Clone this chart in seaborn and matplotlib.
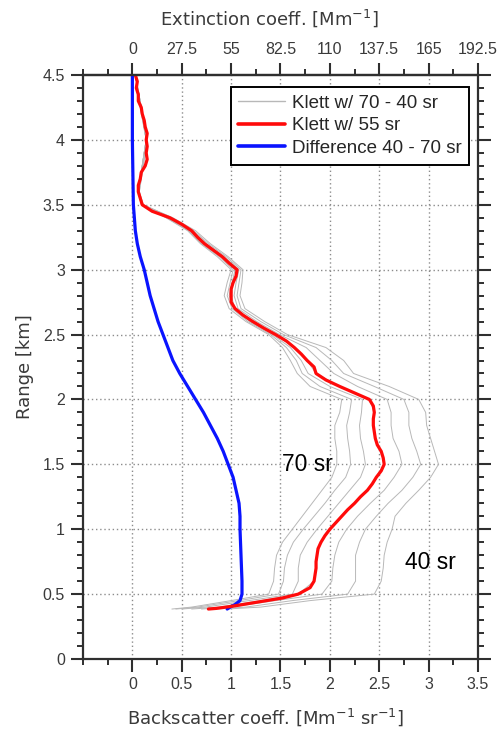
import numpy as np
import pandas as pd
import matplotlib
matplotlib.use("Agg")
import matplotlib.pyplot as plt
from matplotlib.lines import Line2D
from matplotlib.ticker import MultipleLocator, FixedLocator, FuncFormatter
import seaborn as sns

# ---------------------------------------------------------------- data
# Klett retrieval with a lidar ratio of 55 sr (backscatter, Mm^-1 sr^-1)
red_range = [4.50, 4.45, 4.40, 4.35, 4.30, 4.25, 4.20, 4.15, 4.10, 4.05, 4.00,
             3.95, 3.90, 3.85, 3.80, 3.75, 3.70, 3.65, 3.60, 3.55, 3.50, 3.45,
             3.40, 3.35, 3.30, 3.25, 3.20, 3.15, 3.10, 3.05, 3.00, 2.95, 2.90,
             2.85, 2.80, 2.75, 2.70, 2.65, 2.60, 2.55, 2.50, 2.45, 2.40, 2.35,
             2.30, 2.25, 2.20, 2.15, 2.10, 2.05, 2.00, 1.95, 1.90, 1.85, 1.80,
             1.75, 1.70, 1.65, 1.60, 1.55, 1.50, 1.45, 1.40, 1.35, 1.30, 1.25,
             1.20, 1.15, 1.10, 1.05, 1.00, 0.95, 0.90, 0.85, 0.80, 0.75, 0.70,
             0.65, 0.60, 0.55, 0.50, 0.47, 0.45, 0.43, 0.41, 0.40, 0.39, 0.385]
red_beta = [0.03, 0.05, 0.04, 0.06, 0.06, 0.09, 0.10, 0.12, 0.13, 0.15, 0.14,
            0.15, 0.14, 0.15, 0.13, 0.09, 0.08, 0.06, 0.06, 0.08, 0.10, 0.20,
            0.38, 0.50, 0.60, 0.66, 0.73, 0.82, 0.91, 0.98, 1.06, 1.05, 1.02,
            1.00, 1.00, 1.00, 1.04, 1.12, 1.22, 1.33, 1.45, 1.56, 1.64, 1.71,
            1.77, 1.84, 1.86, 1.96, 2.10, 2.25, 2.40, 2.44, 2.45, 2.44, 2.44,
            2.45, 2.46, 2.48, 2.52, 2.54, 2.55, 2.52, 2.47, 2.43, 2.38, 2.31,
            2.25, 2.18, 2.12, 2.06, 2.00, 1.95, 1.91, 1.88, 1.87, 1.86, 1.86,
            1.85, 1.84, 1.80, 1.68, 1.52, 1.36, 1.20, 1.04, 0.95, 0.85, 0.77]

# Difference between the 40 sr and 70 sr retrievals
blue_range = [4.50, 4.00, 3.75, 3.50, 3.40, 3.30, 3.20, 3.10, 3.00, 2.90, 2.80,
              2.70, 2.60, 2.50, 2.40, 2.30, 2.20, 2.10, 2.00, 1.90, 1.80, 1.70,
              1.60, 1.50, 1.40, 1.30, 1.20, 1.10, 1.00, 0.80, 0.60, 0.50, 0.45,
              0.42, 0.40, 0.385]
blue_beta = [0.00, 0.00, 0.005, 0.01, 0.02, 0.03, 0.05, 0.08, 0.12, 0.15, 0.18,
             0.22, 0.26, 0.31, 0.36, 0.41, 0.48, 0.56, 0.64, 0.72, 0.79, 0.86,
             0.92, 0.97, 1.02, 1.05, 1.08, 1.09, 1.09, 1.10, 1.11, 1.11, 1.09,
             1.04, 0.99, 0.96]

# Klett retrievals for lidar ratios from 70 sr down to 40 sr
gray_range = [4.50, 4.25, 4.00, 3.75, 3.60, 3.50, 3.40, 3.30, 3.20, 3.10, 3.00,
              2.90, 2.80, 2.70, 2.60, 2.50, 2.40, 2.30, 2.20, 2.10, 2.00, 1.90,
              1.80, 1.70, 1.60, 1.50, 1.40, 1.30, 1.20, 1.10, 1.00, 0.90, 0.80,
              0.70, 0.60, 0.50, 0.45, 0.40, 0.385]
lidar_ratios = [70, 65, 60, 55, 50, 45, 40]
gray_beta = {
    70: [0.03, 0.08, 0.14, 0.09, 0.06, 0.09, 0.34, 0.56, 0.69, 0.86, 1.00,
         0.96, 0.93, 0.98, 1.15, 1.38, 1.52, 1.60, 1.67, 1.80, 2.12, 2.10,
         2.05, 2.05, 2.07, 2.07, 2.02, 1.92, 1.82, 1.72, 1.62, 1.52, 1.46,
         1.44, 1.43, 1.38, 1.00, 0.60, 0.40],
    65: [0.03, 0.08, 0.14, 0.09, 0.06, 0.10, 0.35, 0.57, 0.70, 0.88, 1.02,
         0.99, 0.96, 1.01, 1.17, 1.40, 1.56, 1.66, 1.72, 1.90, 2.22, 2.20,
         2.17, 2.18, 2.20, 2.21, 2.16, 2.05, 1.95, 1.84, 1.73, 1.63, 1.57,
         1.54, 1.53, 1.48, 1.08, 0.66, 0.44],
    60: [0.03, 0.09, 0.14, 0.09, 0.06, 0.10, 0.36, 0.58, 0.72, 0.90, 1.04,
         1.01, 0.98, 1.03, 1.19, 1.42, 1.60, 1.71, 1.78, 2.00, 2.33, 2.32,
         2.30, 2.31, 2.34, 2.36, 2.31, 2.20, 2.09, 1.98, 1.87, 1.77, 1.70,
         1.68, 1.68, 1.62, 1.18, 0.74, 0.50],
    55: [0.03, 0.09, 0.14, 0.09, 0.06, 0.10, 0.38, 0.60, 0.73, 0.91, 1.06,
         1.02, 1.00, 1.04, 1.22, 1.45, 1.64, 1.77, 1.86, 2.10, 2.40, 2.45,
         2.44, 2.46, 2.52, 2.55, 2.47, 2.38, 2.25, 2.12, 2.00, 1.91, 1.87,
         1.86, 1.84, 1.68, 1.30, 0.88, 0.60],
    50: [0.03, 0.09, 0.14, 0.09, 0.06, 0.10, 0.39, 0.61, 0.75, 0.93, 1.08,
         1.05, 1.03, 1.07, 1.26, 1.49, 1.76, 1.90, 2.04, 2.28, 2.58, 2.62,
         2.62, 2.64, 2.70, 2.73, 2.65, 2.55, 2.41, 2.28, 2.17, 2.09, 2.05,
         2.03, 2.02, 1.92, 1.45, 1.00, 0.70],
    45: [0.03, 0.09, 0.15, 0.10, 0.07, 0.11, 0.40, 0.62, 0.77, 0.95, 1.10,
         1.08, 1.06, 1.10, 1.30, 1.53, 1.86, 2.02, 2.14, 2.45, 2.75, 2.80,
         2.80, 2.83, 2.88, 2.92, 2.84, 2.73, 2.59, 2.47, 2.36, 2.30, 2.26,
         2.26, 2.26, 2.18, 1.62, 1.15, 0.82],
    40: [0.03, 0.09, 0.15, 0.10, 0.07, 0.11, 0.41, 0.64, 0.79, 0.97, 1.12,
         1.11, 1.09, 1.14, 1.34, 1.57, 1.96, 2.14, 2.24, 2.60, 2.90, 2.97,
         2.98, 3.02, 3.06, 3.10, 3.02, 2.90, 2.77, 2.66, 2.63, 2.58, 2.55,
         2.54, 2.52, 2.45, 1.80, 1.30, 0.95],
}

# Tick values for both horizontal scales and the range axis
beta_ticks = [0, 0.5, 1, 1.5, 2, 2.5, 3, 3.5]
ext_ticks = [0, 27.5, 55, 82.5, 110, 137.5, 165, 192.5]
range_ticks = [0, 0.5, 1, 1.5, 2, 2.5, 3, 3.5, 4, 4.5]
LIDAR_RATIO_55 = 55.0

# ---------------------------------------------------------------- style
sns.set_theme(style="white")
plt.rcParams["font.family"] = ["Liberation Sans", "DejaVu Sans"]
plt.rcParams["mathtext.fontset"] = "dejavusans"

SPINE = "#2f2f2f"
TICKLAB = "#3a3a3a"

fig = plt.figure(figsize=(5.02, 7.34), dpi=100)
ax = fig.add_axes([83 / 502, 75 / 734, 395 / 502, 584 / 734])

# gray family of retrievals
gray_df = pd.DataFrame(
    [(lr, b, r) for lr in lidar_ratios for b, r in zip(gray_beta[lr], gray_range)],
    columns=["ratio", "beta", "range"],
)
sns.lineplot(data=gray_df, x="beta", y="range", units="ratio", estimator=None,
             sort=False, color="#b8b8b8", lw=0.7, ax=ax, legend=False)

# difference curve and 55 sr retrieval
sns.lineplot(x=blue_beta, y=blue_range, sort=False, estimator=None,
             color="#0a14ff", lw=2.3, ax=ax)
sns.lineplot(x=red_beta, y=red_range, sort=False, estimator=None,
             color="#ff0a0a", lw=2.3, ax=ax)

ax.set_xlim(-0.5, 3.5)
ax.set_ylim(0, 4.5)
ax.set_xlabel("")
ax.set_ylabel("")

# dotted grid at major ticks
for xv in beta_ticks[:-1]:
    ax.axvline(xv, color="#8c8c8c", lw=1.0, ls=(0, (1, 2)), zorder=0)
for yv in range_ticks[1:-1]:
    ax.axhline(yv, color="#8c8c8c", lw=1.0, ls=(0, (1, 2)), zorder=0)

fmt = FuncFormatter(lambda v, p: f"{v:g}")
ax.xaxis.set_major_locator(FixedLocator(beta_ticks))
ax.xaxis.set_minor_locator(FixedLocator([-0.5, -0.25, 0.25, 0.75, 1.25, 1.75,
                                         2.25, 2.75, 3.25]))
ax.xaxis.set_major_formatter(fmt)
ax.yaxis.set_major_locator(FixedLocator(range_ticks))
ax.yaxis.set_minor_locator(MultipleLocator(0.1))
ax.yaxis.set_major_formatter(fmt)

ax.tick_params(which="major", direction="out", length=9, width=1.5,
               color=SPINE, labelsize=11.5, labelcolor=TICKLAB, pad=4,
               left=True, right=True, bottom=True, top=False)
ax.tick_params(which="minor", direction="out", length=4, width=1.4,
               color=SPINE, left=True, right=True, bottom=True, top=False)
for s in ax.spines.values():
    s.set_color(SPINE)
    s.set_linewidth(1.6)

# top axis: extinction = backscatter * lidar ratio
sec = ax.secondary_xaxis("top", functions=(lambda b: b * LIDAR_RATIO_55,
                                           lambda e: e / LIDAR_RATIO_55))
sec.xaxis.set_major_locator(FixedLocator(ext_ticks))
sec.xaxis.set_minor_locator(FixedLocator([-27.5, -13.75] +
                                         [e + 13.75 for e in ext_ticks[:-1]]))
sec.xaxis.set_major_formatter(fmt)
sec.tick_params(which="major", direction="out", length=9, width=1.5,
                color=SPINE, labelsize=11.5, labelcolor=TICKLAB, pad=4)
sec.tick_params(which="minor", direction="out", length=4, width=1.4, color=SPINE)
sec.spines["top"].set_color(SPINE)
sec.spines["top"].set_linewidth(1.6)

# axis titles
fig.text(269 / 502, 1 - 18 / 734, r"Extinction coeff. [Mm$^{-1}$]",
         ha="center", va="center", fontsize=13, color="#3a3a3a",
         family="DejaVu Sans")
fig.text(266 / 502, 1 - 717 / 734, r"Backscatter coeff. [Mm$^{-1}$ sr$^{-1}$]",
         ha="center", va="center", fontsize=13, color="#3a3a3a",
         family="DejaVu Sans")
fig.text(25 / 502, 1 - 367 / 734, "Range [km]", rotation=90,
         ha="center", va="center", fontsize=13, color="#3a3a3a",
         family="DejaVu Sans")

# curve annotations
ax.text(1.77, 1.50, "70 sr", fontsize=16.5, ha="center", va="center", color="black")
ax.text(3.02, 0.74, "40 sr", fontsize=16.5, ha="center", va="center", color="black")

handles = [
    Line2D([], [], color="#b8b8b8", lw=1.0, label="Klett w/ 70 - 40 sr"),
    Line2D([], [], color="#ff0a0a", lw=2.6, label="Klett w/ 55 sr"),
    Line2D([], [], color="#0a14ff", lw=2.6, label="Difference 40 - 70 sr"),
]
leg = ax.legend(handles=handles, loc="upper right", bbox_to_anchor=(0.987, 0.986),
                fontsize=13.5, frameon=True, fancybox=False, framealpha=1,
                edgecolor="black", handlelength=2.5, handletextpad=0.35,
                labelspacing=0.3, borderpad=0.4, borderaxespad=0.2)
leg.get_frame().set_linewidth(1.4)

fig.savefig("out.png", dpi=100)
